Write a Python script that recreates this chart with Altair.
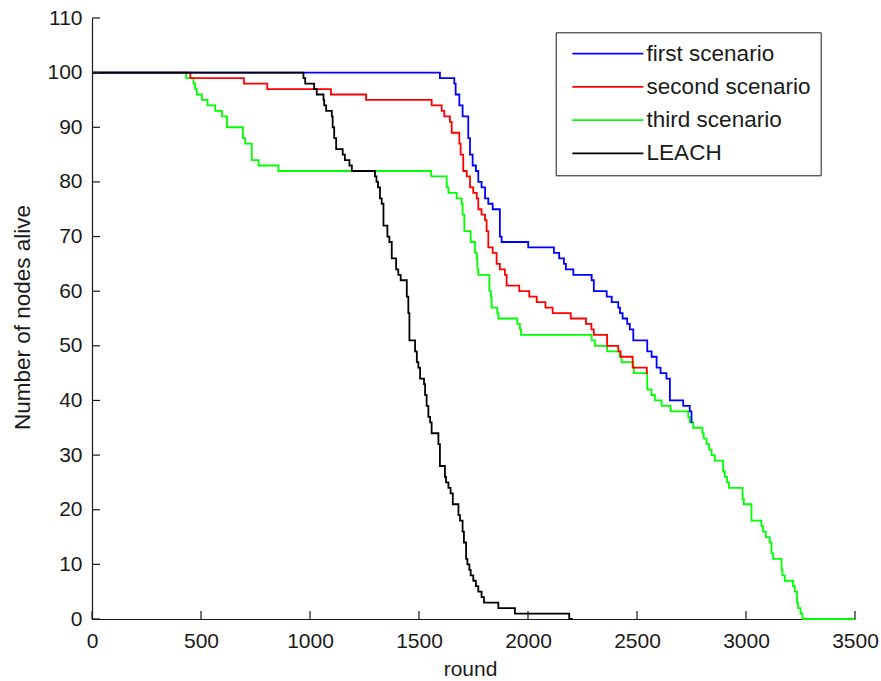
import altair as alt
import pandas as pd

# ---------------- data ----------------
series_names = ["first scenario", "second scenario", "third scenario", "LEACH"]
series_colors = ["#0000ff", "#ff0000", "#00ff00", "#000000"]

first_rounds = [0, 1596, 1662, 1668, 1685, 1700, 1726, 1734, 1746, 1761,
                1772, 1787, 1803, 1818, 1838, 1871, 1879, 2001, 2119, 2143,
                2165, 2174, 2208, 2292, 2302, 2361, 2384, 2414, 2422, 2434,
                2455, 2467, 2483, 2547, 2567, 2590, 2608, 2635, 2651, 2712,
                2742, 2750, 2755]
first_alive = [100, 99, 98, 96, 94, 92, 88, 85, 83, 82,
               80, 79, 77, 76, 75, 70, 69, 68, 67, 66,
               65, 64, 63, 62, 60, 59, 58, 57, 56, 55,
               54, 53, 51, 49, 48, 46, 45, 44, 40, 39,
               38, 36, 36]

second_rounds = [0, 451, 697, 804, 1096, 1257, 1558, 1604, 1616, 1642,
                 1650, 1685, 1691, 1703, 1719, 1734, 1749, 1765, 1772, 1787,
                 1803, 1810, 1818, 1838, 1856, 1871, 1894, 1902, 1960, 2006,
                 2040, 2080, 2113, 2196, 2266, 2291, 2302, 2363, 2414, 2425,
                 2480, 2545, 2550]
second_alive = [100, 99, 98, 97, 96, 95, 94, 93, 92, 91,
                89, 87, 85, 82, 81, 79, 78, 77, 75, 74,
                73, 71, 68, 67, 65, 64, 63, 61, 60, 59,
                58, 57, 56, 55, 54, 53, 52, 50, 49, 48,
                46, 45, 45]

third_rounds = [0, 432, 466, 473, 481, 504, 530, 565, 596, 619,
                692, 703, 733, 764, 855, 1556, 1627, 1635, 1673, 1696,
                1700, 1708, 1737, 1757, 1765, 1768, 1772, 1823, 1830, 1833,
                1859, 1864, 1951, 1963, 1968, 2292, 2307, 2363, 2421, 2429,
                2483, 2486, 2547, 2567, 2582, 2613, 2654, 2735, 2742, 2758,
                2800, 2806, 2819, 2831, 2842, 2857, 2895, 2903, 2913, 2922,
                2984, 2990, 3025, 3071, 3078, 3091, 3109, 3117, 3124, 3163,
                3167, 3178, 3216, 3224, 3234, 3239, 3250, 3259, 3500]
third_alive = [100, 99, 98, 97, 96, 95, 94, 93, 92, 90,
               88, 87, 84, 83, 82, 81, 79, 78, 77, 76,
               74, 71, 69, 67, 66, 64, 63, 60, 59, 57,
               56, 55, 54, 53, 52, 51, 50, 49, 48, 47,
               46, 45, 42, 41, 40, 39, 38, 37, 36, 35,
               34, 33, 32, 31, 30, 29, 27, 26, 25, 24,
               22, 21, 18, 17, 16, 15, 14, 12, 11, 9,
               8, 7, 6, 5, 3, 2, 1, 0, 0]

leach_rounds = [0, 970, 978, 1019, 1031, 1062, 1065, 1074, 1100, 1104,
                1111, 1120, 1150, 1160, 1181, 1192, 1298, 1305, 1312, 1321,
                1329, 1337, 1355, 1364, 1375, 1395, 1405, 1416, 1444, 1451,
                1456, 1482, 1490, 1497, 1505, 1523, 1528, 1535, 1543, 1551,
                1558, 1589, 1596, 1619, 1624, 1635, 1645, 1655, 1681, 1688,
                1700, 1706, 1716, 1722, 1731, 1737, 1749, 1761, 1772, 1787,
                1798, 1864, 1940, 2189, 2205]
leach_alive = [100, 99, 98, 97, 96, 95, 94, 93, 92, 90,
               88, 86, 85, 84, 83, 82, 81, 80, 79, 77,
               76, 72, 70, 69, 66, 64, 63, 62, 59, 56,
               51, 49, 47, 46, 44, 43, 41, 39, 37, 36,
               34, 32, 28, 26, 25, 24, 23, 21, 19, 18,
               16, 14, 11, 10, 9, 8, 7, 6, 5, 4,
               3, 2, 1, 0, 0]

x_tick_values = [0, 500, 1000, 1500, 2000, 2500, 3000, 3500]
y_tick_values = [0, 10, 20, 30, 40, 50, 60, 70, 80, 90, 100, 110]

# ---------------- table ----------------
rows = []
for name, rs, vs in [
    ("first scenario", first_rounds, first_alive),
    ("second scenario", second_rounds, second_alive),
    ("third scenario", third_rounds, third_alive),
    ("LEACH", leach_rounds, leach_alive),
]:
    for r, v in zip(rs, vs):
        rows.append({"series": name, "round": r, "alive": v})
df = pd.DataFrame(rows)

FONT = "Liberation Sans"
INK = "#1a1a1a"
W, H = 763, 601

x_enc = alt.X(
    "round:Q",
    scale=alt.Scale(domain=[0, 3500], nice=False, zero=False),
    axis=alt.Axis(
        values=x_tick_values, format="d", title="round",
        labelPadding=11, labelFlush=False, labelOverlap=False,
        titleFontSize=21, titleY=56, titleX=378, titleBaseline="alphabetic",
        titleAlign="center",
    ),
)
y_enc = alt.Y(
    "alive:Q",
    scale=alt.Scale(domain=[0, 110], nice=False),
    axis=alt.Axis(
        values=y_tick_values, format="d", title="Number of nodes alive",
        labelPadding=10, labelFlush=False, labelOverlap=False,
        titleFontSize=22.5, titleAngle=270, titleX=-62.7, titleY=299,
        titleBaseline="alphabetic", titleAlign="center",
    ),
)

# legend sample line: a long horizontal path drawn from a small symbol size
color_enc = alt.Color(
    "series:N",
    scale=alt.Scale(domain=series_names, range=series_colors),
    legend=alt.Legend(
        title=None, orient="none", legendX=463.7, legendY=14.3,
        symbolType="M-4,0H4", symbolSize=315, symbolStrokeWidth=1.8,
        symbolOffset=30.9, labelOffset=27.5,
        labelFont=FONT, labelFontSize=22.5, labelColor=INK, labelLimit=400,
        padding=10, rowPadding=10.3,
        strokeColor=INK, fillColor="white", cornerRadius=0,
    ),
)


def series_layer(name):
    return (
        alt.Chart(df)
        .transform_filter(alt.datum.series == name)
        .mark_line(interpolate="step-after", strokeWidth=1.8)
        .encode(x=x_enc, y=y_enc, color=color_enc)
    )


layers = [series_layer(n) for n in ["third scenario", "second scenario", "first scenario", "LEACH"]]

x_ticks = (
    alt.Chart(pd.DataFrame({"round": x_tick_values}))
    .mark_rule(color=INK, strokeWidth=1.2)
    .encode(x=x_enc, y=alt.value(H), y2=alt.value(H - 8))
)
y_ticks = (
    alt.Chart(pd.DataFrame({"alive": y_tick_values}))
    .mark_rule(color=INK, strokeWidth=1.2)
    .encode(y=y_enc, x=alt.value(0), x2=alt.value(8))
)

chart = (
    alt.layer(*layers, x_ticks, y_ticks)
    .properties(
        width=W, height=H,
        padding={"left": 92, "top": 18, "right": 26, "bottom": 62},
        autosize=alt.AutoSizeParams(type="none"),
        background="white",
    )
    .configure_view(strokeWidth=0)
    .configure_axis(
        domainColor=INK, domainWidth=1.2, ticks=False, tickSize=0, grid=False,
        labelFont=FONT, labelFontSize=21, labelColor=INK,
        titleFont=FONT, titleFontWeight="normal", titleColor=INK,
    )
)

chart.save("out.html", embed_options={"renderer": "svg", "actions": False})
